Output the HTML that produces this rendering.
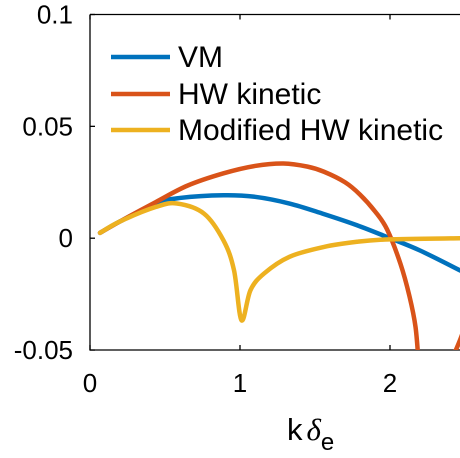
<!DOCTYPE html>
<html><head><meta charset="utf-8"><style>
body{margin:0;background:#fff;}
svg{display:block;font-family:"Liberation Sans",Arial,sans-serif;}
</style></head><body>
<svg id="chart" width="460" height="458" viewBox="0 0 460 458">
<defs><clipPath id="clip"><rect x="90" y="14.5" width="380" height="335.5"/></clipPath></defs>
<g id="axes"></g>
<g id="series" clip-path="url(#clip)"></g>
<g id="legend"></g>
</svg>
<script>
const xTicks=[0,1,2];
const xTickLabels=["0","1","2"];
const yTicks=[0.1,0.05,0,-0.05];
const yTickLabels=["0.1","0.05","0","-0.05"];
const vmK=[0.067,0.2,0.44,0.6,0.89,1.1,1.33,1.55,1.78,2.0,2.2,2.47,2.6];
const vmV=[0.0024,0.0075,0.0156,0.018,0.0192,0.0185,0.0155,0.011,0.0058,0,-0.0055,-0.0145,-0.019];
const hwK=[0.067,0.2,0.44,0.65,0.89,1.1,1.29,1.45,1.56,1.7,1.8,1.9,1.98,2.07,2.13,2.17,2.19];
const hwV=[0.0024,0.0075,0.0162,0.0235,0.029,0.0323,0.0334,0.032,0.0297,0.025,0.0195,0.012,0.004,-0.0115,-0.026,-0.0396,-0.055];
const hw2K=[2.40,2.47,2.55];
const hw2V=[-0.056,-0.045,-0.03];
const modK=[0.067,0.2,0.44,0.58,0.76,0.89,0.96,1.01,1.07,1.16,1.33,1.56,1.78,2.0,2.47,2.6];
const modV=[0.0024,0.0075,0.014,0.0155,0.011,-0.001,-0.0143,-0.0367,-0.0232,-0.0158,-0.0083,-0.0039,-0.0016,-0.0005,0,0];
const NS="http://www.w3.org/2000/svg";
const X=k=>90+150*k;
const Y=v=>238.2-2237*v;
function mk(tag,attrs,parent){const e=document.createElementNS(NS,tag);for(const a in attrs)e.setAttribute(a,attrs[a]);parent.appendChild(e);return e;}
function smooth(pts){
 let d=`M${pts[0][0]},${pts[0][1]}`;
 for(let i=0;i<pts.length-1;i++){
  const p0=pts[Math.max(0,i-1)],p1=pts[i],p2=pts[i+1],p3=pts[Math.min(pts.length-1,i+2)];
  const c1=[p1[0]+(p2[0]-p0[0])/6,p1[1]+(p2[1]-p0[1])/6];
  const c2=[p2[0]-(p3[0]-p1[0])/6,p2[1]-(p3[1]-p1[1])/6];
  d+=`C${c1[0]},${c1[1]} ${c2[0]},${c2[1]} ${p2[0]},${p2[1]}`;
 }
 return d;
}
const ax=document.getElementById('axes');
let l=mk('path',{d:'M90,14.5H470M90,14.5V350H470',fill:'none',stroke:'#000','stroke-width':1.3},ax);


xTicks.forEach((t,i)=>{
 const tk=mk('path',{d:`M${X(t)},350v-5M${X(t)},14.5v5`,stroke:'#000','stroke-width':1.3},ax);
 
 
 const tx=mk('text',{x:X(t),y:392,'font-size':26,'text-anchor':'middle'},ax);
 tx.textContent=xTickLabels[i];
 
 
});
yTicks.forEach((t,i)=>{
 const tk=mk('path',{d:`M90,${Y(t)}h5`,stroke:'#000','stroke-width':1.3},ax);
 
 
 const tx=mk('text',{x:73,y:Y(t)+9,'font-size':26,'text-anchor':'end'},ax);
 tx.textContent=yTickLabels[i];
 
 
});
const xl=mk('text',{x:287,y:440,'font-size':31},ax);
xl.innerHTML='k<tspan font-family="Liberation Serif" font-style="italic" dx="4">δ</tspan><tspan font-size="24" dy="10">e</tspan>';


const sg=document.getElementById('series');
function line(ks,vs,color,name){
 const p=mk('path',{d:smooth(ks.map((k,i)=>[X(k),Y(vs[i])])),fill:'none',stroke:color,'stroke-width':4.5,'stroke-linejoin':'round','stroke-linecap':'round'},sg);
 
 
}
line(vmK,vmV,'#0072BD','vm-line');
line(hwK,hwV,'#D95319','hw-kinetic-line');
line(hw2K,hw2V,'#D95319','hw-kinetic-line-branch2');
line(modK,modV,'#EDB120','modified-hw-kinetic-line');
const lg=document.getElementById('legend');
[['VM','#0072BD',57],['HW kinetic','#D95319',94],['Modified HW kinetic','#EDB120',130]].forEach(([t,c,y])=>{
 const ln=mk('line',{x1:111,x2:170,y1:y,y2:y,stroke:c,'stroke-width':4.5},lg);
 
 
 const tx=mk('text',{x:178,y:y+10,'font-size':30},lg);
 tx.textContent=t;
 
 
});
</script>
</body></html>
